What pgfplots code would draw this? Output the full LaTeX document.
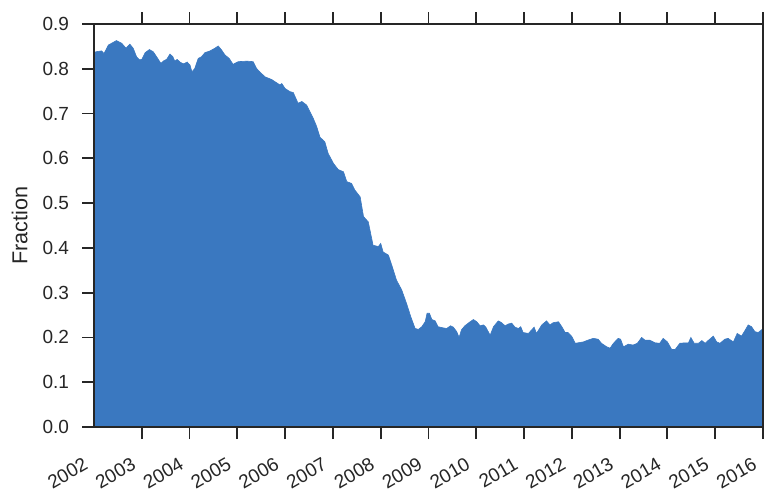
\documentclass[border=0pt]{standalone}
\usepackage{fontspec}
\setmainfont{Liberation Sans}
\usepackage{pgfplots}
\pgfplotsset{compat=1.18}
\definecolor{areablue}{RGB}{58,120,192}
\definecolor{inkgray}{RGB}{38,38,38}

\begin{document}
\begin{tikzpicture}
\useasboundingbox (-47pt,-31pt) rectangle (335pt,213.5pt);
\begin{axis}[
    scale only axis,
    width=334.5pt,
    height=201.5pt,
    xmin=2002, xmax=2016,
    ymin=0, ymax=0.9,
    xtick={2003,...,2016},
    xticklabels={2003,2004,2005,2006,2007,2008,2009,2010,2011,2012,2013,2014,2015,2016},
    extra x ticks={2002},
    extra x tick labels={2002},
    extra x tick style={tick style={draw=none}},
    ytick={0,0.1,...,0.9},
    yticklabel style={/pgf/number format/fixed, /pgf/number format/fixed zerofill, /pgf/number format/precision=1, xshift=-3pt},
    /pgf/number format/assume math mode=true,
    ytick pos=left,
    tick align=outside,
    major tick length=6pt,
    axis line style={inkgray, line width=0.9pt},
    tick style={inkgray, line width=0.9pt},
    xticklabel style={xshift=-5.3pt, yshift=-7.3pt, rotate=30, anchor=north east, inner sep=1pt},
    tick label style={font=\fontsize{9.5}{11}\selectfont, text=inkgray},
    ylabel={Fraction},
    every axis y label/.style={at={(axis description cs:-0.111,0.5)}, rotate=90, anchor=center, font=\fontsize{10.8}{12}\selectfont, text=inkgray},
    axis on top,
]
\addplot[fill=areablue, draw=areablue, line width=0.3pt] coordinates {
(2002.00,0.836) (2002.04,0.838) (2002.16,0.840) (2002.21,0.834) (2002.30,0.853)
(2002.47,0.863) (2002.58,0.857) (2002.67,0.846) (2002.75,0.855) (2002.82,0.846)
(2002.89,0.827) (2002.95,0.820) (2003.00,0.821) (2003.07,0.836) (2003.16,0.843)
(2003.24,0.838) (2003.31,0.827) (2003.40,0.812) (2003.46,0.818) (2003.52,0.821)
(2003.59,0.833) (2003.65,0.827) (2003.69,0.817) (2003.74,0.821) (2003.80,0.815)
(2003.87,0.811) (2003.95,0.815) (2004.01,0.808) (2004.05,0.793) (2004.11,0.801)
(2004.18,0.823) (2004.25,0.827) (2004.32,0.836) (2004.43,0.840) (2004.53,0.846)
(2004.60,0.851) (2004.67,0.842) (2004.74,0.831) (2004.83,0.823) (2004.91,0.810)
(2005.02,0.816) (2005.20,0.817) (2005.33,0.816) (2005.40,0.801) (2005.47,0.793)
(2005.58,0.782) (2005.72,0.776) (2005.79,0.771) (2005.89,0.764) (2005.93,0.767)
(2006.00,0.756) (2006.10,0.749) (2006.17,0.747) (2006.27,0.723) (2006.35,0.727)
(2006.45,0.719) (2006.52,0.704) (2006.59,0.689) (2006.66,0.671) (2006.73,0.647)
(2006.83,0.637) (2006.90,0.611) (2007.01,0.589) (2007.11,0.575) (2007.22,0.570)
(2007.29,0.548) (2007.39,0.544) (2007.46,0.529) (2007.57,0.514) (2007.64,0.470)
(2007.74,0.458) (2007.84,0.406) (2007.95,0.403) (2008.00,0.410) (2008.05,0.391)
(2008.16,0.384) (2008.23,0.362) (2008.33,0.328) (2008.44,0.306) (2008.54,0.276)
(2008.63,0.246) (2008.72,0.220) (2008.79,0.218) (2008.86,0.224) (2008.93,0.235)
(2008.97,0.254) (2009.02,0.254) (2009.07,0.240) (2009.14,0.237) (2009.20,0.224)
(2009.28,0.222) (2009.38,0.220) (2009.46,0.226) (2009.52,0.223) (2009.59,0.213)
(2009.64,0.200) (2009.69,0.217) (2009.76,0.226) (2009.87,0.235) (2009.94,0.240)
(2010.01,0.235) (2010.08,0.226) (2010.15,0.228) (2010.20,0.223) (2010.29,0.205)
(2010.36,0.224) (2010.46,0.237) (2010.53,0.233) (2010.60,0.226) (2010.67,0.230)
(2010.74,0.232) (2010.81,0.223) (2010.88,0.220) (2010.93,0.224) (2010.98,0.211)
(2011.09,0.209) (2011.16,0.217) (2011.21,0.223) (2011.26,0.209) (2011.37,0.228)
(2011.47,0.237) (2011.54,0.228) (2011.61,0.233) (2011.72,0.235) (2011.79,0.224)
(2011.86,0.211) (2011.92,0.211) (2012.00,0.202) (2012.07,0.187) (2012.13,0.188)
(2012.24,0.190) (2012.31,0.193) (2012.45,0.198) (2012.55,0.196) (2012.62,0.187)
(2012.73,0.179) (2012.80,0.176) (2012.87,0.187) (2012.97,0.198) (2013.02,0.196)
(2013.08,0.179) (2013.18,0.185) (2013.28,0.183) (2013.37,0.187) (2013.46,0.200)
(2013.53,0.194) (2013.63,0.194) (2013.74,0.188) (2013.84,0.187) (2013.91,0.198)
(2014.00,0.190) (2014.09,0.173) (2014.16,0.173) (2014.26,0.187) (2014.37,0.188)
(2014.44,0.188) (2014.49,0.200) (2014.56,0.187) (2014.65,0.187) (2014.72,0.193)
(2014.79,0.187) (2014.85,0.193) (2014.96,0.203) (2015.03,0.190) (2015.10,0.187)
(2015.20,0.196) (2015.27,0.198) (2015.38,0.190) (2015.46,0.209) (2015.55,0.203)
(2015.62,0.215) (2015.69,0.228) (2015.76,0.224) (2015.83,0.213) (2015.90,0.211)
(2015.97,0.217) (2016.00,0.220)
} \closedcycle;
\end{axis}
\end{tikzpicture}
\end{document}
